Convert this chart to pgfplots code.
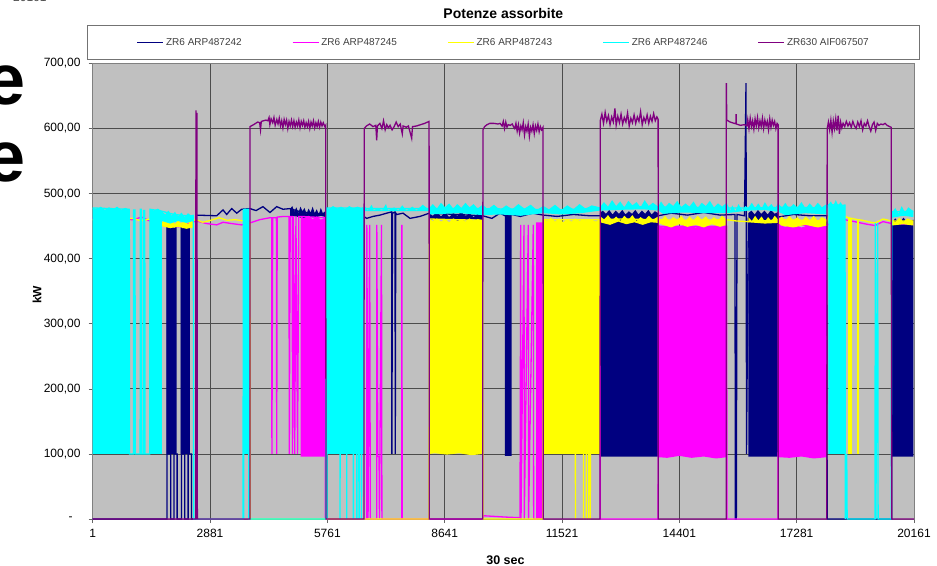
\documentclass[border=0pt]{standalone}
\usepackage{fontspec}
\setmainfont{Liberation Sans}
\usepackage{pgfplots}
\pgfplotsset{compat=1.18}
\definecolor{cN}{RGB}{0,0,128}
\definecolor{cM}{RGB}{255,0,255}
\definecolor{cY}{RGB}{255,255,0}
\definecolor{cC}{RGB}{0,255,255}
\definecolor{cP}{RGB}{128,0,128}
\definecolor{bgg}{RGB}{192,192,192}
\newcommand\tks{\fontsize{12}{14}\selectfont}
\begin{document}
\begin{tikzpicture}
\useasboundingbox (0,0) rectangle (937pt,565pt);
\node[anchor=base west, inner sep=0pt, font=\fontsize{12}{14}\selectfont, text=black!70] at (13pt,563pt) {20161};
\node[anchor=base west, inner sep=0pt, font=\fontsize{72}{80}\selectfont\bfseries] at (-15pt,460pt) {e};
\node[anchor=base west, inner sep=0pt, font=\fontsize{72}{80}\selectfont\bfseries] at (-15pt,383pt) {e};
\begin{axis}[
  at={(92.7pt,46pt)}, anchor=south west, scale only axis,
  width=821.3pt, height=455.5pt,
  xmin=1, xmax=20161, ymin=0, ymax=700, clip=false,
  scaled x ticks=false, scaled y ticks=false,
  xtick={1,2881,5761,8641,11521,14401,17281,20161},
  xticklabels={1,2881,5761,8641,11521,14401,17281,20161},
  ytick={0,100,200,300,400,500,600,700},
  yticklabels={{-\hspace*{8pt}},{100,00},{200,00},{300,00},{400,00},{500,00},{600,00},{700,00}},
  xtick pos=left, ytick pos=left, tick align=outside, major tick length=4pt,
  tick style={black!60, line width=0.6pt},
  xticklabel style={font=\tks, inner sep=0pt, anchor=north, yshift=-6pt},
  yticklabel style={font=\tks, inner sep=0pt, anchor=east, xshift=-8pt},
  grid=major, major grid style={black!70, line width=0.8pt},
  axis line style={black!50, line width=0.6pt},
  axis background/.style={fill=bgg},
  title={Potenze assorbite},
  title style={font=\fontsize{14}{16}\selectfont\bfseries, at={(axis description cs:0.5,1.0976)}, anchor=center, yshift=0pt},
  xlabel={30 sec},
  xlabel style={font=\fontsize{12.5}{14}\selectfont\bfseries, at={(axis description cs:0.5026,-0.090)}, anchor=center},
  ylabel={kW},
  ylabel style={font=\fontsize{12}{14}\selectfont\bfseries, at={(axis description cs:-0.0678,0.4918)}, anchor=center},
  legend columns=5,
  legend image code/.code={\draw[#1, line width=1.5pt] (0pt,0pt) -- (26pt,0pt);},
  legend style={at={(axis description cs:0.5,1.0463)}, anchor=center, draw=black!55, fill=white,
    inner xsep=49pt, inner ysep=12.7pt, font=\fontsize{10}{12}\selectfont, text=black!75,
    nodes={inner sep=0pt},
    /tikz/every odd column/.append style={column sep=2pt},
    /tikz/every even column/.append style={column sep=48.75pt}},
]
% ================= NAVY =================
\addplot[fill=cN, draw=none, forget plot] coordinates {(1817,100)(1817,448)(1850,452)(1900,446)(1950,451)(2000,447)(2063,450)(2063,100)};
\addplot[fill=cN, draw=none, forget plot] coordinates {(2161,100)(2161,450)(2200,446)(2250,452)(2300,447)(2350,451)(2389,448)(2389,100)};
\addplot[fill=cN, draw=none, forget plot] coordinates {(4844,476)(4900,481)(4950,472)(5000,479)(5050,470)(5100,480)(5150,473)(5200,478)(5250,469)(5300,477)(5350,471)(5400,480)(5450,470)(5500,476)(5550,468)(5600,478)(5650,470)(5728,474)(5728,464)(5600,466)(5450,463)(5300,465)(5150,462)(5000,465)(4844,466)};
\addplot[fill=cN, draw=none, forget plot] coordinates {(8263,470)(8350,466)(8450,472)(8550,465)(8650,471)(8750,464)(8850,470)(8950,466)(9050,472)(9150,465)(9250,470)(9350,464)(9450,469)(9574,466)(9574,459)(9300,461)(9000,458)(8700,461)(8400,459)(8263,461)};
\addplot[fill=cN, draw=none, forget plot] coordinates {(10121,97)(10121,466)(10286,468)(10286,97)};
\addplot[fill=cN, draw=none, forget plot] coordinates {(12453,96)(12453,470)(12520,474)(12600,469)(12680,475)(12760,468)(12840,474)(12920,469)(13000,475)(13080,468)(13160,473)(13240,469)(13320,475)(13400,468)(13480,474)(13560,469)(13640,475)(13720,468)(13800,473)(13885,470)(13885,96)};
\addplot[fill=cN, draw=none, forget plot] coordinates {(16094,96)(16094,470)(16170,474)(16250,468)(16330,475)(16410,469)(16490,474)(16570,468)(16650,475)(16740,469)(16830,472)(16830,96)};
\addplot[fill=cN, draw=none, forget plot] coordinates {(19614,96)(19614,455)(19700,462)(19800,454)(19900,463)(20000,456)(20145,460)(20145,96)};
\addplot[cN, line width=1.3pt] coordinates {(1,0)(1827,0)(1827,450)(1830,100)(1918,100)(1918,0)(1999,0)(1999,100)(2073,100)(2073,0)(2181,0)(2181,450)(2185,100)(2262,100)(2262,0)(2343,0)(2343,100)(2425,100)(2425,0)(2530,0)(2537,467)(3045,466)(3200,475)(3290,468)(3413,477)(3536,470)(3658,476)(3862,477)(4010,474)(4180,480)(4353,471)(4517,480)(4672,476)(4844,477)(5100,472)(5400,470)(5728,469)(5900,473)(6050,467)(6200,472)(6350,466)(6500,471)(6727,462)(6882,465)(7053,467)(7217,470)(7340,472)(7345,100)(7360,470)(7422,472)(7428,100)(7440,470)(7470,468)(7618,470)(7790,462)(8035,465)(8263,470)(9574,466)(9800,462)(10000,470)(10121,466)(10286,468)(10500,465)(10800,470)(11062,467)(11400,465)(11800,468)(12200,466)(12453,466)(13885,466)(14200,470)(14600,467)(15000,471)(15400,467)(15767,468)(15775,0)(15800,0)(15816,468)(16000,466)(16037,670)(16050,100)(16094,462)(16830,464)(17200,468)(17600,466)(18018,466)(18030,0)(19614,0)(19614,455)(20145,458)};
\addlegendentry{\makebox[77pt][l]{ZR6 ARP487242}}
% ================= MAGENTA =================
\addplot[fill=cM, draw=none, forget plot] coordinates {(5107,96)(5107,465)(5200,462)(5300,466)(5400,461)(5500,465)(5600,460)(5703,463)(5703,96)};
\addplot[fill=cM, draw=none, forget plot] coordinates {(10900,0)(10900,455)(11062,455)(11062,0)};
\addplot[fill=cM, draw=none, forget plot] coordinates {(13885,95)(13885,452)(14000,448)(14200,453)(14400,449)(14600,454)(14800,448)(15000,452)(15200,449)(15400,453)(15563,450)(15563,95)(15300,93)(15000,96)(14700,94)(14400,97)(14100,94)};
\addplot[fill=cM, draw=none, forget plot] coordinates {(16830,95)(16830,452)(17000,449)(17200,453)(17400,448)(17600,452)(17800,449)(18018,451)(18018,95)(17700,93)(17400,96)(17100,94)};
\addplot[cM, line width=1.3pt] coordinates {(1,462)(1000,460)(1200,464)(1400,458)(1700,455)(1900,452)(2100,449)(2300,453)(2537,458)(2800,454)(3045,452)(3200,456)(3413,454)(3658,452)(3862,455)(4100,460)(4353,463)(4395,463)(4400,100)(4420,463)(4510,463)(4518,100)(4530,464)(4700,465)(4820,465)(4826,100)(4850,465)(4900,465)(4905,100)(4930,465)(4960,100)(4990,465)(5030,100)(5060,465)(5107,465)(5703,463)(5710,0)(6727,0)(6730,452)(6760,0)(6800,452)(6815,0)(6972,0)(6975,452)(7000,96)(7030,96)(7040,0)(7090,452)(7100,0)(7586,0)(7590,452)(7600,0)(9574,0)(9600,5)(10121,3)(10490,2)(10507,452)(10515,0)(10588,452)(10595,0)(10693,452)(10700,0)(10816,452)(10825,0)(10900,0)(10900,455)(11062,455)(11400,455)(11800,452)(12100,450)(12300,453)(12453,455)(12460,0)(13880,0)(13885,450)(15563,450)(15570,0)(16825,0)(16830,452)(18018,451)(18300,462)(18700,457)(19000,453)(19204,451)(19400,457)(19614,454)(20145,453)};
\addlegendentry{\makebox[77pt][l]{ZR6 ARP487245}}
% ================= YELLOW =================
\addplot[fill=cY, draw=none, forget plot] coordinates {(1695,455)(1780,461)(1860,454)(1940,462)(2020,453)(2100,460)(2180,452)(2260,459)(2340,453)(2420,460)(2470,456)(2470,448)(2300,446)(2100,449)(1900,447)(1695,450)};
\addplot[fill=cY, draw=none, forget plot] coordinates {(8263,100)(8263,461)(8350,458)(8450,462)(8550,457)(8650,461)(8750,456)(8850,462)(8950,458)(9050,461)(9150,457)(9250,462)(9350,458)(9450,461)(9574,459)(9574,100)(9300,98)(9000,101)(8700,99)(8400,101)};
\addplot[fill=cY, draw=none, forget plot] coordinates {(11062,100)(11062,462)(11150,458)(11250,463)(11350,457)(11450,462)(11550,456)(11650,461)(11750,457)(11850,462)(11950,458)(12050,461)(12150,456)(12250,460)(12350,457)(12453,461)(12453,100)};
\addplot[fill=cY, draw=none, forget plot] coordinates {(12453,466)(12550,460)(12650,467)(12750,459)(12850,465)(12950,458)(13050,466)(13150,460)(13250,467)(13350,458)(13450,464)(13550,459)(13650,466)(13750,460)(13885,465)(13950,459)(14050,466)(14150,458)(14250,464)(14350,460)(14450,466)(14550,458)(14650,465)(14750,459)(14850,466)(14950,460)(15050,465)(15150,458)(15250,464)(15350,459)(15450,466)(15563,460)(15563,452)(15400,449)(15200,453)(15000,448)(14800,452)(14600,449)(14400,453)(14200,448)(14000,452)(13885,455)(13700,456)(13500,452)(13300,456)(13100,453)(12900,457)(12700,452)(12453,456)};
\addplot[fill=cY, draw=none, forget plot] coordinates {(16094,464)(16180,458)(16260,466)(16340,459)(16420,465)(16500,457)(16580,464)(16660,458)(16740,466)(16830,460)(16920,465)(17000,458)(17100,466)(17200,459)(17300,464)(17400,457)(17500,465)(17600,459)(17700,466)(17800,458)(17900,464)(18018,460)(18018,451)(17800,448)(17500,452)(17200,448)(16900,451)(16830,455)(16500,454)(16094,456)};
\addplot[fill=cY, draw=none, forget plot] coordinates {(19614,461)(19700,456)(19800,463)(19900,457)(20000,462)(20145,458)(20145,451)(19900,453)(19614,451)};
\addplot[fill=cY, draw=none, forget plot] coordinates {(18549,100)(18549,463)(18632,463)(18632,100)};
\addplot[fill=cY, draw=none, forget plot] coordinates {(18755,100)(18755,461)(18819,461)(18819,100)};
\addplot[cY, line width=1.3pt] coordinates {(1,460)(1000,462)(1187,458)(1400,461)(1700,455)(2000,452)(2300,456)(2537,460)(2700,456)(2900,459)(3100,463)(3300,459)(3500,460)(3700,458)(3862,455)(3870,0)(8258,0)(8263,461)(9574,459)(9580,0)(11055,0)(11062,460)(11845,460)(11850,0)(11860,460)(12043,460)(12048,0)(12060,460)(12110,460)(12115,0)(12130,460)(12168,460)(12172,0)(12190,460)(12210,460)(12215,0)(12230,460)(12453,460)(13000,461)(13885,460)(14500,459)(15563,460)(15800,458)(16094,457)(17000,460)(18018,458)(18058,465)(18468,465)(18549,463)(18700,461)(18900,459)(19100,456)(19204,455)(19400,461)(19614,458)(20145,458)};
\addlegendentry{\makebox[77pt][l]{ZR6 ARP487243}}
% ================= CYAN =================
\addplot[fill=cC, draw=none, forget plot] coordinates {(1,100)(1,478)(100,476)(200,480)(300,475)(400,479)(500,476)(600,480)(700,475)(800,478)(900,476)(900,100)};
\addplot[fill=cC, draw=none, forget plot] coordinates {(1005,100)(1005,475)(1040,475)(1040,100)};
\addplot[fill=cC, draw=none, forget plot] coordinates {(1170,100)(1170,476)(1195,476)(1195,100)};
\addplot[fill=cC, draw=none, forget plot] coordinates {(1250,100)(1250,474)(1280,474)(1280,100)};
\addplot[fill=cC, draw=none, forget plot] coordinates {(1407,100)(1407,476)(1500,474)(1600,477)(1700,473)(1700,100)};
\addplot[fill=cC, draw=none, forget plot] coordinates {(1700,473)(1780,468)(1860,474)(1940,466)(2020,472)(2100,465)(2180,471)(2260,464)(2340,470)(2420,466)(2470,468)(2470,458)(2300,455)(2100,458)(1900,454)(1700,458)};
\addplot[fill=cC, draw=none, forget plot] coordinates {(3700,100)(3700,476)(3830,476)(3830,100)};
\addplot[fill=cC, draw=none, forget plot] coordinates {(5728,100)(5728,479)(5800,476)(5900,481)(6000,477)(6100,480)(6200,476)(6300,481)(6400,477)(6500,480)(6660,477)(6660,100)};
\addplot[fill=cC, draw=none, forget plot] coordinates {(6660,473)(6700,480)(6750,474)(6850,483)(6900,474)(7000,478)(7100,474)(7200,484)(7250,474)(7400,479)(7500,474)(7600,482)(7700,474)(7850,480)(7950,474)(8100,483)(8263,475)(8263,473)(7500,473)(6660,473)};
\addplot[fill=cC, draw=none, forget plot] coordinates {(8263,478)(8350,484)(8450,477)(8550,486)(8650,479)(8750,485)(8850,477)(8950,484)(9050,478)(9150,486)(9250,479)(9350,484)(9450,477)(9574,483)(9700,476)(9850,483)(10000,475)(10150,482)(10300,476)(10450,484)(10600,477)(10750,483)(10900,475)(11062,481)(11200,476)(11350,483)(11500,475)(11650,482)(11800,476)(11950,484)(12100,477)(12250,482)(12453,479)(12550,487)(12650,480)(12750,490)(12850,481)(12950,488)(13050,479)(13150,489)(13250,482)(13350,487)(13450,479)(13550,490)(13650,481)(13750,486)(13885,480)(13950,488)(14050,479)(14150,486)(14250,481)(14350,489)(14450,479)(14550,485)(14650,480)(14750,488)(14850,478)(14950,486)(15050,481)(15150,489)(15250,479)(15350,485)(15450,480)(15563,486)(15650,474)(15700,482)(15780,473)(15850,484)(15950,474)(16020,481)(16094,478)(16180,486)(16260,478)(16340,485)(16420,477)(16500,487)(16580,479)(16660,484)(16740,477)(16830,485)(16920,478)(17000,486)(17100,477)(17200,484)(17300,479)(17400,487)(17500,477)(17600,485)(17700,478)(17800,486)(17900,479)(18018,484)(18018,468)(17500,470)(17000,467)(16830,472)(16500,475)(16094,474)(15563,470)(15000,470)(14500,471)(14000,469)(13885,474)(13500,476)(12900,475)(12453,474)(12000,470)(11500,468)(11062,470)(10500,466)(10000,468)(9574,467)(9000,470)(8263,468)};
\addplot[fill=cC, draw=none, forget plot] coordinates {(18058,100)(18058,483)(18120,488)(18180,481)(18240,490)(18300,482)(18360,487)(18420,480)(18468,484)(18468,100)};
\addplot[fill=cC, draw=none, forget plot] coordinates {(19614,470)(19700,478)(19780,469)(19860,481)(19940,471)(20020,479)(20145,473)(20145,464)(19900,466)(19614,463)};
\addplot[cC, line width=1.3pt] coordinates {(1,478)(900,476)(905,100)(1000,100)(1005,475)(1040,475)(1045,100)(1165,100)(1170,476)(1195,476)(1200,100)(1245,100)(1250,474)(1280,474)(1285,100)(1400,100)(1407,476)(1700,473)(2000,468)(2300,466)(2470,466)(2480,0)(3690,0)(3700,476)(3705,0)(3720,476)(3830,476)(3835,0)(5720,0)(5728,479)(5745,100)(5750,0)(5760,478)(6060,478)(6072,0)(6085,478)(6230,478)(6236,0)(6245,478)(6390,478)(6400,0)(6410,478)(6480,478)(6485,0)(6500,478)(6540,0)(6560,478)(6600,0)(6620,478)(6660,477)(6900,477)(7500,477)(8263,477)(9574,477)(10500,476)(11500,475)(12453,478)(13500,480)(14500,479)(15563,478)(16094,478)(17000,479)(18018,478)(18058,483)(18468,482)(18475,0)(18510,100)(18520,0)(19204,0)(19210,455)(19225,0)(19270,455)(19280,0)(19600,0)(19614,472)(20145,473)};
\addlegendentry{\makebox[77pt][l]{ZR6 ARP487246}}
% ================= PURPLE =================
\addplot[cP, line width=1.3pt] coordinates {(1,0)(2530,0)(2535,628)(2545,0)(2560,624)(2570,0)(3862,0)(3862,603)(3950,606)(4050,610)(4100,609)(4120,598)(4140,611)(4250,613)(4300,612)(4330,617)(4350,606)(4380,615)(4420,609)(4450,617)(4480,605)(4520,614)(4550,607)(4580,616)(4610,604)(4640,612)(4670,601)(4700,614)(4730,606)(4760,613)(4790,600)(4820,611)(4850,604)(4880,613)(4910,603)(4940,612)(4970,602)(5000,610)(5030,604)(5060,613)(5090,601)(5120,611)(5150,605)(5180,612)(5210,602)(5240,609)(5270,603)(5300,611)(5330,600)(5360,610)(5390,604)(5420,612)(5450,601)(5480,609)(5510,603)(5540,611)(5570,602)(5600,610)(5630,604)(5660,609)(5700,603)(5720,605)(5728,0)
(6660,0)(6665,600)(6720,604)(6800,607)(6880,603)(6950,605)(6972,582)(6990,604)(7050,608)(7100,600)(7140,612)(7180,598)(7220,606)(7260,601)(7300,605)(7350,598)(7400,603)(7450,610)(7500,603)(7550,607)(7600,592)(7620,604)(7700,602)(7750,604)(7831,585)(7850,603)(7950,604)(8050,606)(8150,608)(8258,611)(8263,0)
(9574,0)(9580,598)(9620,603)(9680,606)(9750,608)(9850,608)(9950,607)(10000,608)(10050,604)(10080,611)(10110,600)(10140,610)(10170,602)(10200,606)(10250,605)(10300,607)(10330,603)(10360,600)(10390,608)(10420,596)(10450,606)(10480,593)(10510,604)(10540,598)(10570,609)(10600,590)(10630,603)(10660,596)(10690,607)(10720,588)(10750,602)(10780,596)(10810,606)(10840,592)(10870,604)(10900,597)(10930,607)(10960,595)(10990,603)(11020,598)(11055,602)(11062,0)
(12453,0)(12460,612)(12500,622)(12540,608)(12580,625)(12620,611)(12660,620)(12700,606)(12740,618)(12780,610)(12820,631)(12850,605)(12890,619)(12930,609)(12970,622)(13010,607)(13050,617)(13090,610)(13130,624)(13170,604)(13210,616)(13250,609)(13290,621)(13330,608)(13370,618)(13410,611)(13450,626)(13490,606)(13530,617)(13570,610)(13610,621)(13650,608)(13690,619)(13730,611)(13770,623)(13810,612)(13850,618)(13880,614)(13885,0)
(15550,0)(15555,670)(15565,613)(15650,610)(15750,608)(15790,608)(15795,622)(15800,607)(15900,605)(16000,606)(16058,604)(16080,614)(16110,600)(16140,616)(16170,603)(16200,612)(16230,599)(16260,615)(16290,604)(16320,617)(16350,601)(16380,612)(16410,603)(16440,616)(16470,600)(16500,613)(16530,604)(16560,611)(16590,598)(16620,615)(16650,602)(16680,613)(16710,605)(16740,611)(16770,600)(16800,608)(16825,606)(16830,0)
(18018,0)(18030,600)(18060,610)(18090,598)(18120,613)(18150,594)(18180,612)(18210,600)(18240,615)(18270,597)(18300,620)(18330,592)(18360,610)(18390,601)(18420,608)(18460,603)(18500,611)(18540,604)(18580,609)(18620,602)(18660,611)(18700,604)(18740,600)(18780,610)(18820,603)(18860,612)(18900,598)(18940,608)(18980,604)(19020,612)(19060,603)(19100,596)(19140,606)(19180,610)(19220,597)(19260,608)(19300,605)(19350,607)(19400,606)(19450,608)(19500,605)(19560,603)(19600,602)(19614,0)(20161,0)};
\addlegendentry{\makebox[83pt][l]{ZR630 AIF067507}}
\end{axis}
\end{tikzpicture}
\end{document}
